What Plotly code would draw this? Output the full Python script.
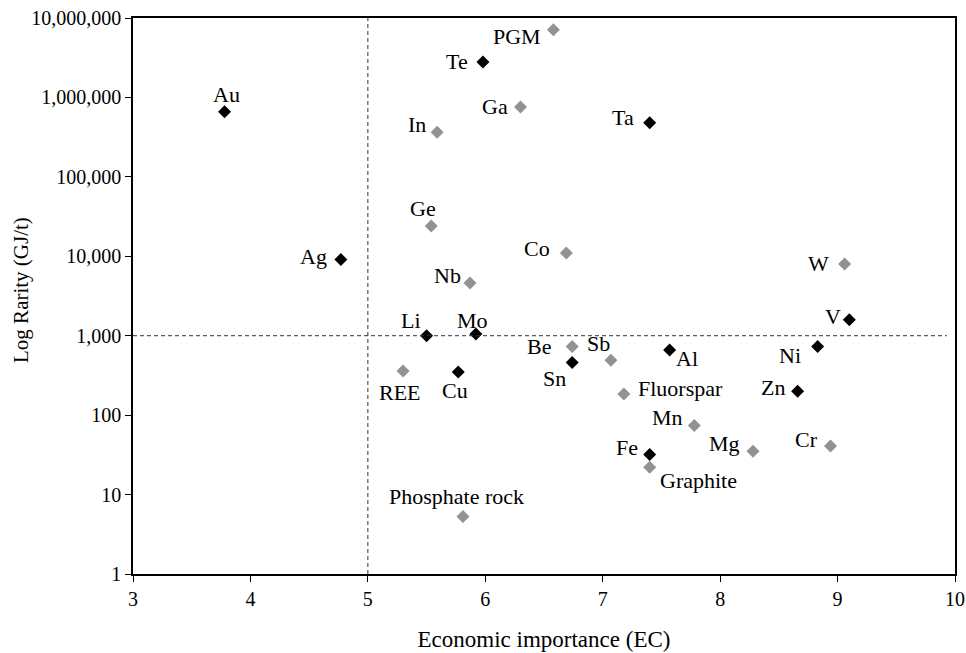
import math
import plotly.graph_objects as go

# Data
black_names = ["Au", "Te", "Ta", "Ag", "Li", "Mo", "Cu", "Sn", "Al", "Ni", "Zn", "Fe", "V"]
black_x = [3.78, 5.98, 7.40, 4.77, 5.50, 5.92, 5.77, 6.74, 7.57, 8.83, 8.66, 7.40, 9.10]
black_y = [660000, 2800000, 480000, 9100, 1000, 1050, 350, 460, 660, 730, 200, 32, 1590]

gray_names = ["PGM", "Ga", "In", "Ge", "Nb", "Co", "W", "REE", "Phosphate rock", "Be", "Sb",
              "Fluorspar", "Mn", "Mg", "Cr", "Graphite"]
gray_x = [6.58, 6.30, 5.59, 5.54, 5.87, 6.69, 9.06, 5.30, 5.81, 6.74, 7.07, 7.18, 7.78, 8.28, 8.94, 7.40]
gray_y = [7100000, 760000, 365000, 24000, 4600, 11000, 8000, 360, 5.3, 730, 490, 185, 74, 35, 41, 22]

y_tickvals = [1, 10, 100, 1000, 10000, 100000, 1000000, 10000000]
y_ticktext = ["1", "10", "100", "1,000", "10,000", "100,000", "1,000,000", "10,000,000"]
x_tickvals = [3, 4, 5, 6, 7, 8, 9, 10]

# Label offsets in pixels (dx, dy) relative to each marker (dy positive = down)
label_offsets = {
    "Au": (2, -17), "Te": (-26, 0), "Ta": (-27, -5), "Ag": (-27, -3), "Li": (-16, -15),
    "Mo": (-3, -14), "Cu": (-3, 19), "Sn": (-18, 16), "Al": (17, 8), "Ni": (-28, 9),
    "Zn": (-25, -4), "Fe": (-23, -7), "V": (-16, -3),
    "PGM": (-36, 7), "Ga": (-26, 0), "In": (-20, -8), "Ge": (-8, -18), "Nb": (-23, -8),
    "Co": (-29, -5), "W": (-26, 0), "REE": (-3, 22), "Phosphate rock": (-6, -20),
    "Be": (-33, 0), "Sb": (-12, -17), "Fluorspar": (57, -5), "Mn": (-27, -8),
    "Mg": (-29, -8), "Cr": (-24, -6), "Graphite": (49, 13),
}

FONT = "Liberation Serif, Times New Roman, serif"

fig = go.Figure()
fig.add_trace(go.Scatter(x=gray_x, y=gray_y, mode="markers",
                         marker=dict(symbol="diamond", size=10, color="#929292"),
                         hoverinfo="text", text=gray_names, showlegend=False))
fig.add_trace(go.Scatter(x=black_x, y=black_y, mode="markers",
                         marker=dict(symbol="diamond", size=10, color="#000000"),
                         hoverinfo="text", text=black_names, showlegend=False))

for names, xs, ys in [(black_names, black_x, black_y), (gray_names, gray_x, gray_y)]:
    for n, x, y in zip(names, xs, ys):
        dx, dy = label_offsets[n]
        fig.add_annotation(x=x, y=math.log10(y), yref="y", xref="x", text=n, showarrow=False,
                           xshift=dx, yshift=-dy, xanchor="center", yanchor="middle",
                           font=dict(family=FONT, size=22, color="#000"))

# Y-axis title as a rotated annotation for exact placement
fig.add_annotation(xref="paper", yref="paper", x=-0.1363, y=0.5108, text="Log Rarity (GJ/t)",
                   textangle=-90, showarrow=False, xanchor="center", yanchor="middle",
                   font=dict(family=FONT, size=21, color="#000"))

# Dashed reference lines
fig.add_shape(type="line", xref="x", yref="paper", x0=5, x1=5, y0=0, y1=1.006,
              line=dict(color="#333", width=1, dash="4px,3px"))
fig.add_shape(type="line", xref="x", yref="y", x0=3, x1=9.93, y0=1000, y1=1000,
              line=dict(color="#333", width=1, dash="4px,3px"))

fig.update_layout(
    width=966, height=653,
    margin=dict(l=133, r=11, t=18, b=79),
    paper_bgcolor="white", plot_bgcolor="white",
    font=dict(family=FONT, size=19, color="#000"),
    xaxis=dict(range=[3, 10], tickvals=x_tickvals, showgrid=False, zeroline=False,
               showline=True, linecolor="#000", linewidth=1.5, mirror=True,
               ticks="outside", ticklen=6, tickcolor="#000", automargin=False,
               ticklabeloverflow="allow",
               title=dict(text="Economic importance (EC)", standoff=22),
               tickfont=dict(family=FONT, size=20)),
    yaxis=dict(type="log", range=[0, 7], tickvals=y_tickvals, ticktext=y_ticktext,
               showgrid=False, zeroline=False, showline=True, linecolor="#000",
               linewidth=1.5, mirror=True, ticks="outside", ticklen=6, tickcolor="#000",
               automargin=False, ticksuffix="\u00a0", ticklabeloverflow="allow",
               tickfont=dict(family=FONT, size=20)),
)

fig.write_html("out.html", config={"displayModeBar": False},
               post_script="document.body.style.margin='0px';")
